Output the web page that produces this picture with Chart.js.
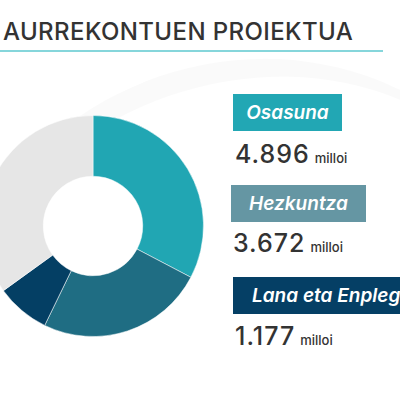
<!DOCTYPE html>
<html>
<head>
<meta charset="utf-8">
<script src="https://cdn.jsdelivr.net/npm/chart.js@4"></script>
<style>
  html, body { margin: 0; padding: 0; }
  body {
    width: 400px; height: 400px; overflow: hidden; position: relative;
    background: #ffffff;
    font-family: "Inter", "Noto Sans", sans-serif;
  }
  .swoosh {
    position: absolute; left: -60px; top: 62px; width: 620px; height: 560px;
    border-radius: 50%;
    border-top: 22px solid rgba(0,0,0,0.018);
    transform: rotate(-24deg);
  }
  .title {
    position: absolute; left: 3px; top: 17px;
    font-size: 24px; font-weight: 500; color: #333;
    letter-spacing: 0.4px; white-space: nowrap;
  }
  .rule {
    position: absolute; left: 0; top: 50px; width: 383px; height: 2px;
    background: #86d6db;
  }
  .chart-box {
    position: absolute; left: -18px; top: 115px; width: 222px; height: 222px;
  }
  .tag {
    position: absolute; height: 37px; line-height: 37px; color: #fff;
    font-style: italic; font-weight: 600; font-size: 19px;
    text-align: center; white-space: nowrap; overflow: hidden; box-sizing: border-box;
  }
  .tag.wide { text-align: left; padding-left: 19px; }
  .num {
    position: absolute; color: #333; white-space: nowrap;
    font-size: 25px; font-weight: 500; letter-spacing: 1px;
  }
  .num small { font-size: 13px; font-weight: 500; margin-left: 5px; letter-spacing: 0; }
</style>
</head>
<body>
<div class="swoosh"></div>
<div class="title">AURREKONTUEN PROIEKTUA</div>
<div class="rule"></div>
<div class="chart-box"><canvas id="budgetChart"></canvas></div>
<div id="tags"></div>

<script>
// Sailak eta zenbatekoak (milioi €)
const categories = ['Osasuna', 'Hezkuntza', 'Lana eta Enplegua', 'Beste batzuk'];
const amounts = [4896, 3672, 1177, 5234];
const amountLabels = ['4.896', '3.672', '1.177'];
const sliceColors = ['#21a6b3', '#1f6d83', '#043f64', '#e6e6e6'];
const tagColors = ['#22a7b4', '#6596a3', '#053f65'];

// etiketen kokapena
const tagLayout = [
  { left: 233, top: 94, width: 109, numTop: 139 },
  { left: 231, top: 185, width: 135, numTop: 228 },
  { left: 233, top: 277, width: 180, numTop: 321, wide: true }
];

const tagsEl = document.getElementById('tags');
tagLayout.forEach((pos, i) => {
  const tag = document.createElement('div');
  tag.className = pos.wide ? 'tag wide' : 'tag';
  tag.style.left = pos.left + 'px';
  tag.style.top = pos.top + 'px';
  tag.style.width = pos.width + 'px';
  tag.style.background = tagColors[i];
  tag.textContent = categories[i];
  tagsEl.appendChild(tag);

  const num = document.createElement('div');
  num.className = 'num';
  num.style.left = (pos.left + 2) + 'px';
  num.style.top = pos.numTop + 'px';
  num.innerHTML = amountLabels[i] + '<small>milloi</small>';
  tagsEl.appendChild(num);
});

const ctx = document.getElementById('budgetChart');
new Chart(ctx, {
  type: 'doughnut',
  data: {
    labels: categories,
    datasets: [{
      data: amounts,
      backgroundColor: sliceColors,
      borderColor: 'rgba(255,255,255,0.5)',
      borderWidth: 1,
      hoverOffset: 0
    }]
  },
  options: {
    responsive: true,
    maintainAspectRatio: false,
    animation: false,
    cutout: '45%',
    layout: { padding: 0 },
    plugins: {
      legend: { display: false },
      tooltip: { enabled: false }
    }
  }
});
</script>
</body>
</html>
